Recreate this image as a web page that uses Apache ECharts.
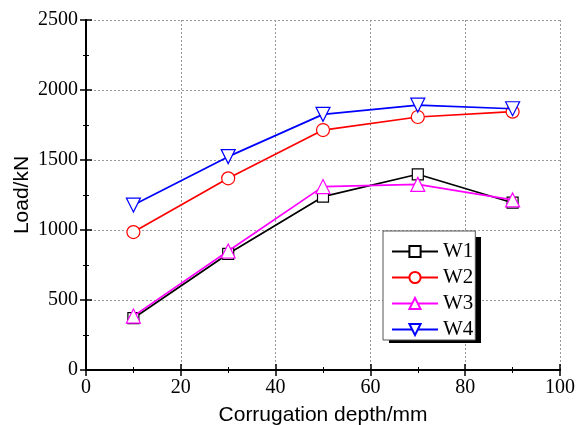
<!DOCTYPE html>
<html><head><meta charset="utf-8">
<script src="https://cdn.jsdelivr.net/npm/echarts@6/dist/echarts.min.js"></script>
<style>html,body{margin:0;padding:0;background:#fff}#c{width:577px;height:425px}</style>
</head><body><div id="c"></div>
<script>
const depths = [10, 30, 50, 70, 90];
const seriesNames = ['W1', 'W2', 'W3', 'W4'];
const w1 = [370, 830, 1238, 1398, 1195];
const w2 = [985, 1369, 1714, 1807, 1845];
const w3 = [385, 850, 1310, 1326, 1215];
const w4 = [1178, 1524, 1826, 1892, 1866];
const values = [w1, w2, w3, w4];
const colors = ['#000000', '#ff0000', '#ff00ff', '#0000ff'];
const symbols = ['rect', 'circle', 'triangle', 'triangle'];
const rotates = [0, 0, 0, 180];
const sizes = [11, 13, 14, 14];

const chart = echarts.init(document.getElementById('c'), null, {renderer: 'canvas'});
const serif = 'Liberation Serif, Times New Roman, serif';
const sans = 'Liberation Sans, Arial, sans-serif';
const frame = {lineStyle: {color: '#000', width: 2}};
const split = {show: true, lineStyle: {color: '#999', type: [2, 2], width: 1}};
const tick = {show: true, inside: true, length: 6, lineStyle: {color: '#000', width: 1.5}};
const minor = {show: true, splitNumber: 2, length: 3, lineStyle: {color: '#000', width: 1}};
const plain = v => String(v);

chart.setOption({
  animation: false,
  backgroundColor: '#fff',
  grid: {left: 86, right: 17, top: 20, bottom: 55, containLabel: false, outerBoundsMode: 'none'},
  graphic: [{
    type: 'rect', z: 1,
    shape: {x: 389, y: 237, width: 92, height: 106},
    style: {fill: '#000'}
  }],
  legend: {
    data: seriesNames,
    orient: 'vertical',
    left: 383, top: 231,
    itemWidth: 46, itemHeight: 14, itemGap: 5,
    padding: [10, 2, 0, 8],
    backgroundColor: '#fff',
    borderColor: '#555', borderWidth: 1,
    borderRadius: 0,
    z: 5,
    textStyle: {fontFamily: serif, fontSize: 21, lineHeight: 20, color: '#000'}
  },
  xAxis: [{
    type: 'value', min: 0, max: 100, interval: 20, position: 'bottom',
    name: 'Corrugation depth/mm', nameLocation: 'middle', nameGap: 35, nameMoveOverlap: false,
    nameTextStyle: {fontFamily: sans, fontSize: 21, color: '#000'},
    axisLine: frame, axisTick: tick, minorTick: minor,
    axisLabel: {fontFamily: serif, fontSize: 20, color: '#000', margin: 8, formatter: plain},
    splitLine: split
  }, {
    type: 'value', min: 0, max: 100, interval: 20, position: 'top',
    axisLine: frame, axisTick: tick, minorTick: minor,
    axisLabel: {show: false}, splitLine: {show: false}
  }],
  yAxis: [{
    type: 'value', min: 0, max: 2500, interval: 500, position: 'left',
    name: 'Load/kN', nameLocation: 'middle', nameGap: 53, nameMoveOverlap: false,
    nameTextStyle: {fontFamily: sans, fontSize: 21, color: '#000'},
    axisLine: frame, axisTick: tick, minorTick: minor,
    axisLabel: {fontFamily: serif, fontSize: 20, color: '#000', margin: 8, formatter: plain},
    splitLine: split
  }, {
    type: 'value', min: 0, max: 2500, interval: 500, position: 'right',
    axisLine: frame, axisTick: tick, minorTick: minor,
    axisLabel: {show: false}, splitLine: {show: false}
  }],
  series: seriesNames.map((n, i) => ({
    name: n, type: 'line', xAxisIndex: 0, yAxisIndex: 0,
    data: depths.map((d, j) => [d, values[i][j]]),
    symbol: symbols[i], symbolRotate: rotates[i], symbolSize: sizes[i],
    showAllSymbol: true,
    lineStyle: {color: colors[i], width: 1.7},
    itemStyle: {color: '#fff', borderColor: colors[i], borderWidth: 1.2},
    z: 3 + i
  }))
});
</script></body></html>
